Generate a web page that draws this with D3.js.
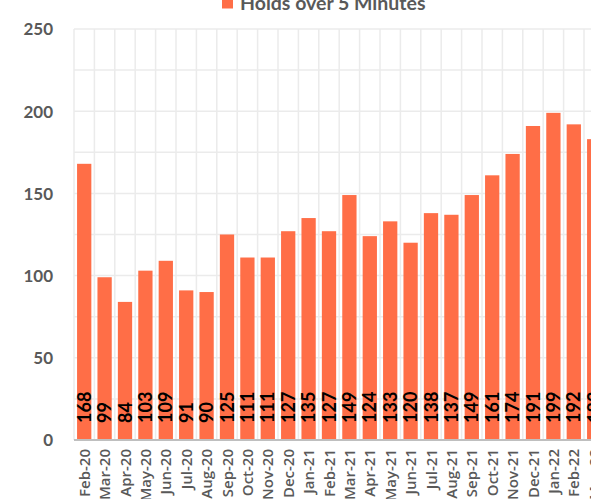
<!DOCTYPE html>
<html><head><meta charset="utf-8">
<script src="https://cdn.jsdelivr.net/npm/d3@7"></script>
<style>body{margin:0;background:#fff;overflow:hidden}svg{display:block}</style>
</head><body>
<script>
const categories = ["Feb-20","Mar-20","Apr-20","May-20","Jun-20","Jul-20","Aug-20","Sep-20","Oct-20","Nov-20","Dec-20","Jan-21","Feb-21","Mar-21","Apr-21","May-21","Jun-21","Jul-21","Aug-21","Sep-21","Oct-21","Nov-21","Dec-21","Jan-22","Feb-22","Mar-22"];
const holds = [168,99,84,103,109,91,90,125,111,111,127,135,127,149,124,133,120,138,137,149,161,174,191,199,192,183];
const yTicks = [0,50,100,150,200,250];
const gridTicks = [0,25,50,75,100,125,150,175,200,225,250];
const seriesName = "Holds over 5 Minutes";

const W = 591, H = 499;
const svg = d3.select("body").append("svg").attr("width", W).attr("height", H);
const left = 74, step = 20.4;
const x = d3.scaleBand().domain(categories).range([left, left + step*categories.length]).paddingInner(0.3).paddingOuter(0.15);
const y = d3.scaleLinear().domain([0,250]).range([440, 29]);
const font = "Lato, 'Open Sans', sans-serif";

// horizontal gridlines
svg.append("g").selectAll("line").data(gridTicks.filter(d=>d>0)).join("line")
  .attr("x1", left).attr("x2", W).attr("y1", d=>y(d)).attr("y2", d=>y(d))
  .attr("stroke", "#ebebeb").attr("stroke-width", 1.5);
// vertical gridlines at category boundaries
const bounds = categories.map((c,i)=> left + step*i);
svg.append("g").selectAll("line").data(bounds).join("line")
  .attr("x1", d=>d).attr("x2", d=>d).attr("y1", y(250)).attr("y2", y(0))
  .attr("stroke", "#ebebeb").attr("stroke-width", 1.5);

// bars
svg.append("g").selectAll("rect").data(holds).join("rect")
  .attr("x", (d,i)=>x(categories[i])).attr("width", x.bandwidth())
  .attr("y", d=>y(d)).attr("height", d=>y(0)-y(d))
  .attr("fill", "#ff6e47");

// baseline
svg.append("line").attr("x1", left).attr("x2", W).attr("y1", y(0)).attr("y2", y(0))
  .attr("stroke", "#bfbfbf").attr("stroke-width", 2);

// y axis
const yAxis = d3.axisLeft(y).tickValues(yTicks).tickSize(0).tickPadding(0);
const ya = svg.append("g").attr("transform", "translate(53,0)").call(yAxis);
ya.select(".domain").remove();
ya.selectAll("text").attr("font-family", font).attr("font-weight", "bold").attr("font-size", 17).attr("fill", "#595959").attr("dy", "0.35em");

// x axis labels
const xAxis = d3.axisBottom(x).tickSize(0).tickPadding(0);
const xa = svg.append("g").attr("transform", `translate(0,${y(0)})`).call(xAxis);
xa.select(".domain").remove();
xa.selectAll("text")
  .attr("font-family", "'Open Sans', sans-serif").attr("font-weight", 600).attr("font-size", 15).attr("fill", "#595959")
  .attr("text-anchor", "end").attr("dy", null).attr("y", 0)
  .attr("transform", "translate(5.5,9) rotate(-90)");

// data labels
svg.append("g").selectAll("text").data(holds).join("text")
  .attr("transform", (d,i)=>`translate(${x(categories[i]) + x.bandwidth()/2 + 6.5},${y(0)-17}) rotate(-90)`)
  .attr("font-family", font).attr("font-weight", "bold").attr("font-size", 18).attr("fill", "#000")
  .attr("text-anchor", "start").text(d=>d);

// legend
const lg = svg.append("g");
lg.append("rect").attr("x", 222).attr("y", -3).attr("width", 11).attr("height", 11.5).attr("fill", "#ff6e47");
lg.append("text").attr("x", 240).attr("y", 9.5).attr("font-family", font).attr("font-weight", "bold")
  .attr("font-size", 19.5).attr("fill", "#595959").text(seriesName);
</script>
</body></html>
